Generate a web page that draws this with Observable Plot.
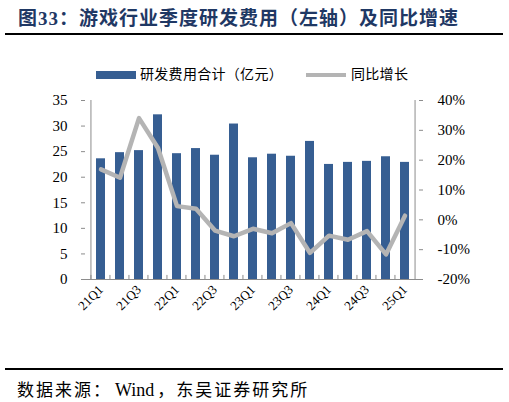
<!DOCTYPE html>
<html>
<head>
<meta charset="utf-8">
<script src="https://cdn.jsdelivr.net/npm/d3@7"></script>
<script src="https://cdn.jsdelivr.net/npm/@observablehq/plot@0.6"></script>
<style>
  body { margin: 0; background: white; }
  #page { position: relative; width: 509px; height: 402px; background: white; overflow: hidden;
    font-family: "Liberation Serif", "Noto Sans CJK SC", serif; color: black; }
  .abs { position: absolute; }
  #title { left: 18px; top: 3px; font-size: 19px; font-weight: bold; color: #1F3864; letter-spacing: 1px; white-space: nowrap; }
  .rule { left: 5px; width: 498px; height: 2px; background: black; }
  .legtext { font-size: 14px; line-height: 16px; letter-spacing: 0.3px; white-space: nowrap; }
  #source { left: 17px; top: 376px; font-size: 17px; letter-spacing: 2px; white-space: nowrap; }
  #source span { letter-spacing: 0; font-size: 18px; margin: 0 3px; }
  #chart { left: 0; top: 90px; }
  #chart text { font-family: "Liberation Serif", serif; }
</style>
</head>
<body>
<div id="page">
  <div id="title" class="abs">图33：游戏行业季度研发费用（左轴）及同比增速</div>
  <div class="abs rule" style="top:33px"></div>
  <div class="abs" style="left:96px;top:71px;width:40px;height:8px;background:#365E92"></div>
  <div class="abs legtext" style="left:140px;top:67px">研发费用合计（亿元）</div>
  <div class="abs" style="left:306px;top:73px;width:40px;height:4px;background:#B4B4B4"></div>
  <div class="abs legtext" style="left:351px;top:67px">同比增长</div>
  <div id="chart" class="abs"></div>
  <div class="abs rule" style="top:368px"></div>
  <div id="source" class="abs">数据来源：<span>Wind</span>，东吴证券研究所</div>
</div>
<script>
const quarters = ["21Q1","21Q2","21Q3","21Q4","22Q1","22Q2","22Q3","22Q4","23Q1","23Q2","23Q3","23Q4","24Q1","24Q2","24Q3","24Q4","25Q1"];
// 研发费用合计（亿元）
const rdExpense = [23.6, 24.8, 25.2, 32.2, 24.6, 25.6, 24.3, 30.4, 23.8, 24.5, 24.1, 27.0, 22.5, 22.9, 23.1, 24.0, 22.9];
// 同比增长（%）
const yoyGrowth = [16.9, 14.1, 34.1, 24.1, 4.6, 3.7, -3.6, -5.5, -3.0, -4.5, -1.1, -11.1, -5.3, -6.7, -3.8, -11.6, 1.4];
const leftTicks = [0, 5, 10, 15, 20, 25, 30, 35];
const rightTicks = [-20, -10, 0, 10, 20, 30, 40];
const xLabels = quarters.filter((d, i) => i % 2 === 0);

// right axis (-20%..40%) mapped onto the left scale (0..35)
const toLeft = p => (p + 20) * 35 / 60;
const toPct = v => Math.round(v * 60 / 35 - 20);

const rows = quarters.map((q, i) => ({q, rd: rdExpense[i], yoy: toLeft(yoyGrowth[i])}));

const W = 509, mL = 81, mR = 86;
const step = (W - mL - mR) / quarters.length;
const axisColor = "#8C8C8C";
const serif = "'Liberation Serif', serif";

const chart = Plot.plot({
  width: W,
  height: 239,
  marginTop: 10,
  marginBottom: 50,
  marginLeft: mL,
  marginRight: mR,
  style: {fontFamily: serif, fontSize: "14px", color: "black", background: "white"},
  x: {domain: quarters, padding: 0.54, axis: null},
  y: {domain: [0, 35], axis: null},
  marks: [
    Plot.barY(rows, {x: "q", y: "rd", fill: "#365E92"}),
    Plot.line(rows, {x: "q", y: "yoy", stroke: "#B4B4B4", strokeWidth: 4.5}),
    // axis lines
    Plot.ruleY([0], {stroke: axisColor}),
    Plot.ruleX([quarters[0]], {dx: -step / 2, stroke: axisColor}),
    Plot.ruleX([quarters[quarters.length - 1]], {dx: step / 2, stroke: axisColor}),
    // inward ticks
    Plot.ruleX(quarters, {dx: -step / 2, y1: 0, y2: 0.8, stroke: axisColor}),
    Plot.tickY(leftTicks, {y: d => d, insetRight: W - mL - mR - 4, stroke: axisColor}),
    Plot.tickY(rightTicks.map(toLeft), {y: d => d, insetLeft: W - mL - mR - 4, stroke: axisColor}),
    // labels
    Plot.axisY(leftTicks, {anchor: "left", tickSize: 0, tickPadding: 14, fontSize: 15, label: null}),
    Plot.axisY(rightTicks.map(toLeft), {anchor: "right", tickSize: 0, tickPadding: 14, fontSize: 15, label: null, tickFormat: v => toPct(v) + "%"}),
    Plot.axisX(xLabels, {anchor: "bottom", tickSize: 0, tickPadding: 8, tickRotate: -45, fontSize: 13, label: null})
  ]
});

d3.select("#chart").append(() => chart);
</script>
</body>
</html>
